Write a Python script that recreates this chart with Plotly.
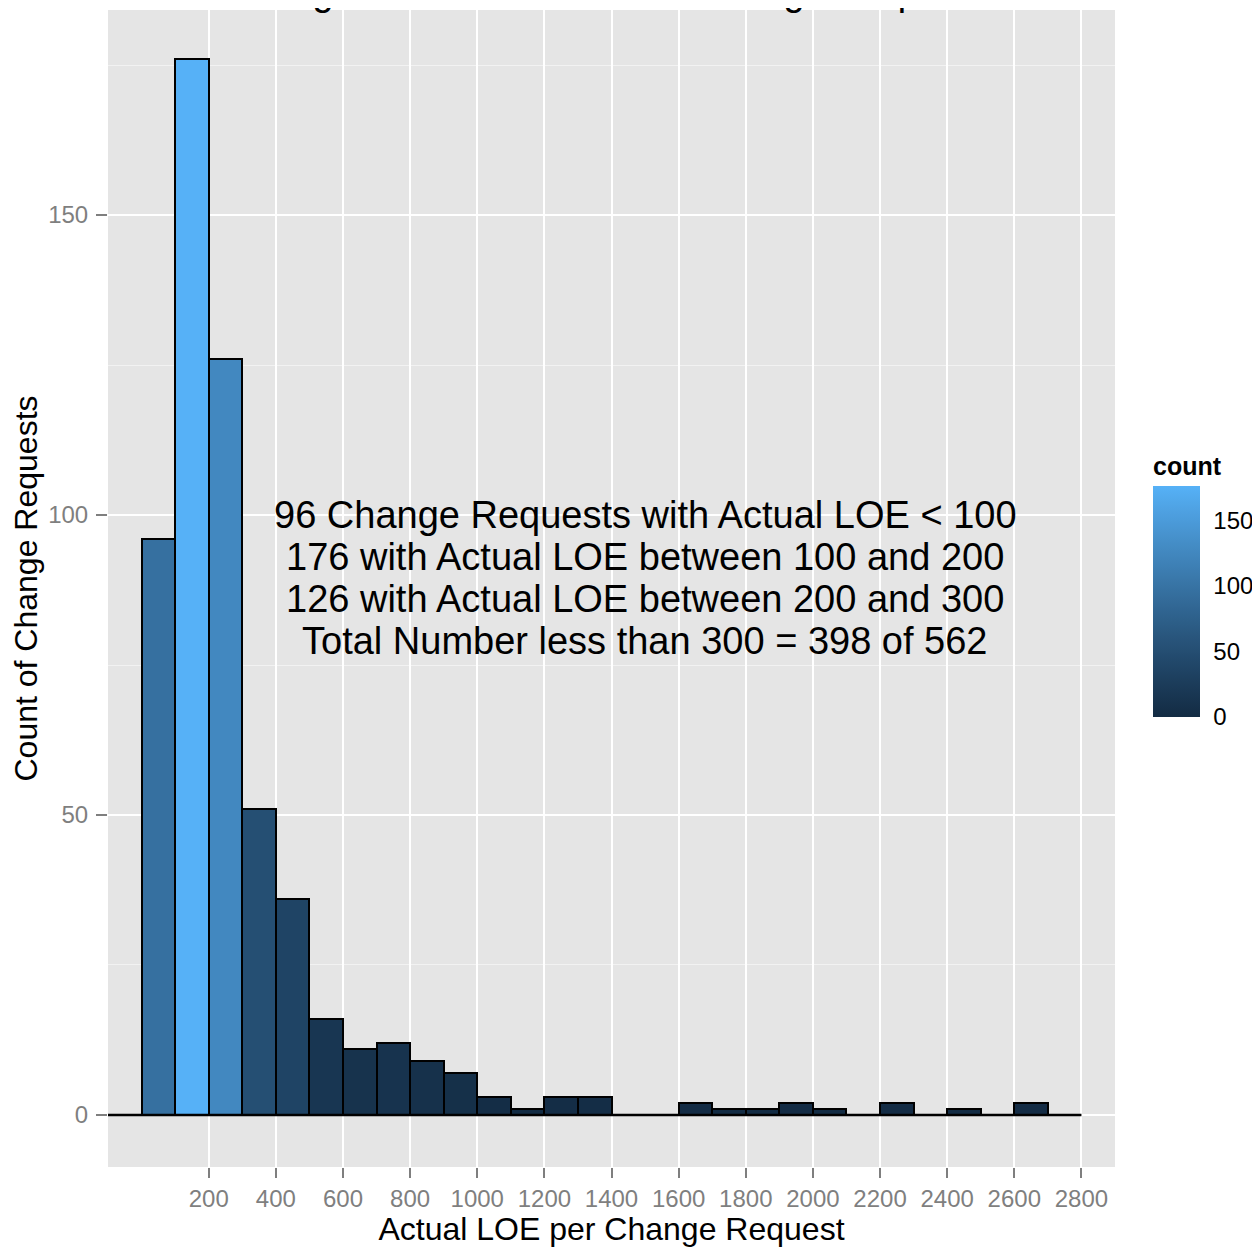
import plotly.graph_objects as go

# ---------------- data ----------------
bin_edges = [-100, 0, 100, 200, 300, 400, 500, 600, 700, 800, 900, 1000, 1100, 1200,
             1300, 1400, 1500, 1600, 1700, 1800, 1900, 2000, 2100, 2200, 2300, 2400,
             2500, 2600, 2700, 2800]
counts = [0, 96, 176, 126, 51, 36, 16, 11, 12, 9, 7, 3, 1, 3,
          3, 0, 0, 2, 1, 1, 2, 1, 0, 2, 0, 1, 0, 2, 0]
x_ticks = [200, 400, 600, 800, 1000, 1200, 1400, 1600, 1800, 2000, 2200, 2400, 2600, 2800]
y_ticks = [0, 50, 100, 150]
legend_ticks = [0, 50, 100, 150]
note_lines = [
    "96 Change Requests with Actual LOE < 100",
    "176 with Actual LOE between 100 and 200",
    "126 with Actual LOE between 200 and 300",
    "Total Number less than 300 = 398 of 562",
]
title_text = "Histogram of Actual LOE in Change Requests"
x_title = "Actual LOE per Change Request"
y_title = "Count of Change Requests"

# ---------------- colour scale (ggplot default gradient, Lab interpolation) -------------
LOW, HIGH = "#132B43", "#56B1F7"


def _hex_to_rgb(h):
    h = h.lstrip("#")
    return [int(h[i:i + 2], 16) / 255 for i in (0, 2, 4)]


def _lin(c):
    return c / 12.92 if c <= 0.04045 else ((c + 0.055) / 1.055) ** 2.4


def _delin(c):
    c = 12.92 * c if c <= 0.0031308 else 1.055 * c ** (1 / 2.4) - 0.055
    return min(1, max(0, c))


WX, WY, WZ = 0.95047, 1.0, 1.08883


def _f(t):
    return t ** (1 / 3) if t > (6 / 29) ** 3 else t / (3 * (6 / 29) ** 2) + 4 / 29


def _finv(t):
    return t ** 3 if t > 6 / 29 else 3 * (6 / 29) ** 2 * (t - 4 / 29)


def hex_to_lab(h):
    r, g, b = [_lin(c) for c in _hex_to_rgb(h)]
    X = 0.4124 * r + 0.3576 * g + 0.1805 * b
    Y = 0.2126 * r + 0.7152 * g + 0.0722 * b
    Z = 0.0193 * r + 0.1192 * g + 0.9505 * b
    fx, fy, fz = _f(X / WX), _f(Y / WY), _f(Z / WZ)
    return (116 * fy - 16, 500 * (fx - fy), 200 * (fy - fz))


def lab_to_hex(L, a, b):
    fy = (L + 16) / 116
    fx = fy + a / 500
    fz = fy - b / 200
    X, Y, Z = WX * _finv(fx), WY * _finv(fy), WZ * _finv(fz)
    r = 3.2406 * X - 1.5372 * Y - 0.4986 * Z
    g = -0.9689 * X + 1.8758 * Y + 0.0415 * Z
    bb = 0.0557 * X - 0.2040 * Y + 1.0570 * Z
    return "#%02x%02x%02x" % tuple(round(_delin(c) * 255) for c in (r, g, bb))


lab_lo, lab_hi = hex_to_lab(LOW), hex_to_lab(HIGH)
n_stops = 21
colorscale = []
for i in range(n_stops):
    t = i / (n_stops - 1)
    lab = [lo + (hi - lo) * t for lo, hi in zip(lab_lo, lab_hi)]
    colorscale.append([t, lab_to_hex(*lab)])

# ---------------- figure ----------------
centers = [(a + b) / 2 for a, b in zip(bin_edges[:-1], bin_edges[1:])]
widths = [b - a for a, b in zip(bin_edges[:-1], bin_edges[1:])]

# the page adds an 8px body margin, so the figure is sized to fit the window
W, H = 1252, 1239
ML, MR, MT, MB = 100, 145, 2, 80
plot_h = H - MT - MB
plot_w = W - ML - MR
plot_bottom = H - MB

FONT = "Liberation Sans, Arial, Helvetica, sans-serif"
GREY = "#7F7F7F"

fig = go.Figure()

fig.add_trace(go.Bar(
    x=centers,
    y=counts,
    width=widths,
    marker=dict(
        color=counts,
        colorscale=colorscale,
        cmin=0,
        cmax=max(counts),
        line=dict(color="black", width=2),
        showscale=True,
        colorbar=dict(
            title=dict(text="<b>count</b>", side="top",
                       font=dict(size=25, color="black", family=FONT)),
            tickvals=legend_ticks,
            ticks="outside",
            ticklen=9,
            tickwidth=1,
            tickcolor="white",
            tickfont=dict(size=24, color="black", family=FONT),
            thickness=47,
            thicknessmode="pixels",
            len=264,
            lenmode="pixels",
            x=(1145 - ML) / plot_w,
            xanchor="left",
            xpad=0,
            y=(plot_bottom - 445) / plot_h,
            yanchor="top",
            ypad=0,
            outlinewidth=0,
        ),
    ),
    hoverinfo="x+y",
    showlegend=False,
))

# baseline drawn across all bins (zero-count bins appear as a black line)
fig.add_trace(go.Scatter(
    x=[bin_edges[0], bin_edges[-1]],
    y=[0, 0],
    mode="lines",
    line=dict(color="black", width=2.5),
    hoverinfo="skip",
    showlegend=False,
))

# text annotation lines
note_x = 1500
note_y_top = 100
note_step = 7
for i, line in enumerate(note_lines):
    fig.add_annotation(
        x=note_x, y=note_y_top - i * note_step, xref="x", yref="y",
        text=line, showarrow=False, xanchor="center", yanchor="middle",
        font=dict(size=38, color="black", family=FONT),
    )

# title (mostly cut off at the top of the image, as in the reference)
fig.add_annotation(
    x=0.5, xref="paper", xanchor="center",
    y=(plot_bottom - 7) / plot_h, yref="paper", yanchor="bottom",
    text=title_text, showarrow=False,
    font=dict(size=38, color="black", family=FONT),
)

fig.update_layout(
    width=W,
    height=H,
    margin=dict(l=ML, r=MR, t=MT, b=MB, pad=0),
    paper_bgcolor="white",
    plot_bgcolor="#E5E5E5",
    bargap=0,
    font=dict(family=FONT, color="black"),
    xaxis=dict(
        range=[-100, 2900],
        tickvals=x_ticks,
        ticks="outside",
        ticklen=10,
        tickwidth=2,
        tickcolor=GREY,
        tickfont=dict(size=24, color=GREY, family=FONT),
        showgrid=True,
        gridcolor="white",
        gridwidth=2,
        zeroline=False,
        showline=False,
        title=dict(text=x_title, standoff=6,
                   font=dict(size=32, color="black", family=FONT)),
        automargin=False,
    ),
    yaxis=dict(
        range=[-8.67, 184.17],
        tickvals=y_ticks,
        ticks="outside",
        ticklen=11,
        tickwidth=2,
        tickcolor=GREY,
        tickfont=dict(size=24, color=GREY, family=FONT),
        ticklabelstandoff=3,
        showgrid=True,
        gridcolor="white",
        gridwidth=2,
        zeroline=False,
        showline=False,
        minor=dict(dtick=25, tick0=25, showgrid=True, gridcolor="#F2F2F2",
                   gridwidth=1, ticks=""),
        title=dict(text=y_title, standoff=6,
                   font=dict(size=32, color="black", family=FONT)),
        automargin=False,
    ),
)

fig.write_html("out.html")
